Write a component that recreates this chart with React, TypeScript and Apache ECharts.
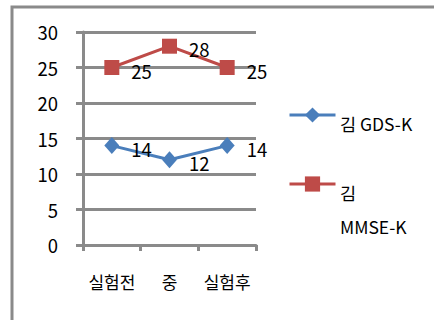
import React, { useEffect, useRef } from "react";
import * as echarts from "echarts";

const categories = ["실험전", "중", "실험후"];
const gdsValues = [14, 12, 14];
const mmseValues = [25, 28, 25];
const gdsName = "김 GDS-K";
const mmseName = "김 MMSE-K";
const yTicks = { min: 0, max: 30, interval: 5 };

const FONT = "'Noto Sans CJK KR', 'Noto Sans', sans-serif";
const GRAY = "#8a8a8a";
const BLUE = "#4a7ebb";
const RED = "#be4b48";

export default function App() {
  const ref = useRef<HTMLDivElement>(null);
  useEffect(() => {
    document.body.style.margin = "0";
    const chart = echarts.init(ref.current!, null, { renderer: "svg" });
    const labelStyle = {
      show: true,
      position: "right" as const,
      distance: 12,
      offset: [0, 3],
      fontSize: 18.5,
      fontFamily: FONT,
      color: "#000",
    };
    const legendCommon = {
      orient: "vertical" as const,
      left: 288,
      padding: 0,
      itemWidth: 46,
      itemHeight: 19,
      formatter: () => "",
      textStyle: { fontSize: 1 },
      lineStyle: { width: 3 },
      selectedMode: false,
    };
    chart.setOption({
      animation: false,
      backgroundColor: "#fff",
      grid: { left: 83, right: 178, top: 32, bottom: 75, containLabel: false },
      xAxis: {
        type: "category",
        data: categories,
        boundaryGap: true,
        axisLine: { show: true, lineStyle: { color: GRAY, width: 3 } },
        axisTick: { show: true, interval: 0, length: 6, lineStyle: { color: GRAY, width: 3 } },
        axisLabel: { margin: 28, fontSize: 17, fontFamily: FONT, color: "#000", interval: 0 },
        splitLine: { show: false },
      },
      yAxis: {
        type: "value",
        min: yTicks.min,
        max: yTicks.max,
        interval: yTicks.interval,
        axisLine: { show: true, lineStyle: { color: GRAY, width: 3 } },
        axisTick: { show: true, length: 7, lineStyle: { color: GRAY, width: 3 } },
        axisLabel: { margin: 25, fontSize: 18.5, fontFamily: FONT, color: "#000" },
        splitLine: { show: true, lineStyle: { color: GRAY, width: 3 } },
      },
      legend: [
        { ...legendCommon, data: [gdsName], top: 115 - 9.5 },
        { ...legendCommon, data: [mmseName], top: 184 - 9.5 },
      ],
      graphic: [
        {
          type: "rect",
          shape: { x: 12, y: 7, width: 600, height: 500 },
          style: { fill: "none", stroke: GRAY, lineWidth: 3 },
          silent: true,
        },
        {
          type: "text",
          x: 340,
          y: 123,
          style: { text: gdsName, fontSize: 17.5, fontFamily: FONT, fill: "#000", verticalAlign: "middle" },
        },
        {
          type: "text",
          x: 340,
          y: 192,
          style: { text: "김", fontSize: 17.5, fontFamily: FONT, fill: "#000", verticalAlign: "middle" },
        },
        {
          type: "text",
          x: 340,
          y: 226,
          style: { text: "MMSE-K", fontSize: 17.5, fontFamily: FONT, fill: "#000", verticalAlign: "middle" },
        },
      ],
      series: [
        {
          name: gdsName,
          type: "line",
          data: gdsValues,
          symbol: "diamond",
          symbolSize: [15, 17],
          lineStyle: { color: BLUE, width: 3 },
          itemStyle: { color: BLUE },
          label: labelStyle,
        },
        {
          name: mmseName,
          type: "line",
          data: mmseValues,
          symbol: "rect",
          symbolSize: 15,
          lineStyle: { color: RED, width: 3 },
          itemStyle: { color: RED },
          label: labelStyle,
        },
      ],
    });
    return () => chart.dispose();
  }, []);
  return (
    <div
      ref={ref}
      style={{ position: "absolute", left: 0, top: 0, width: 434, height: 320 }}
    />
  );
}
